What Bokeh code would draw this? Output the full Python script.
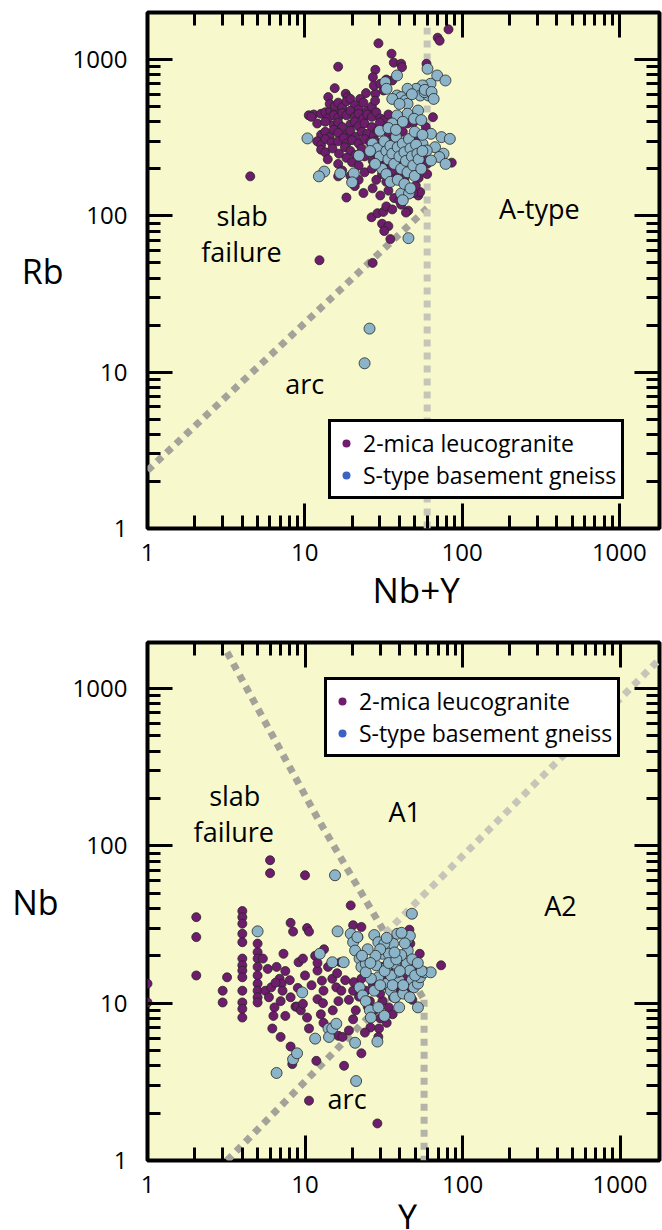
from bokeh.plotting import figure
from bokeh.layouts import column
from bokeh.models import (LogAxis, FixedTicker, NumeralTickFormatter, Range1d,
                          Legend, LegendItem, Label, LogScale, Title)
from bokeh.core.properties import value
from bokeh.embed import file_html
from bokeh.resources import INLINE

# ---------------------------------------------------------------- data
MAJOR_TICKS = [1, 10, 100, 1000]
MINOR_TICKS = [m * 10 ** k for k in range(0, 4) for m in range(2, 10)]

# Rb vs Nb+Y : 2-mica leucogranite  (Nb+Y, Rb)
LEUCO_RB = [
    (4.5, 179), (12.4, 52), (27, 50), (29.4, 1270), (82, 1560), (70, 1380), (72, 1320),
    (16.3, 900), (35.6, 1090), (36.8, 955), (41, 940), (41.5, 894), (28.1, 860), (27.1, 771),
    (59.4, 940), (15.5, 656), (18.2, 604), (18.7, 575), (14.1, 575), (28.1, 604), (31.7, 634),
    (36, 735), (65.3, 428), (58.8, 370), (86, 219), (35, 71), (31, 89), (34, 86), (32, 80),
    (26.6, 98), (29, 104), (31.6, 106), (45.5, 108), (52.7, 135), (54.2, 142), (50.8, 156),
    (16.3, 179), (18.4, 131), (24.5, 610), (27.5, 680), (30.2, 700), (33, 745), (22.5, 560),
    (10.6, 440), (11.4, 445), (12.7, 450), (11, 430), (13.5, 460), (14.5, 470), (15.5, 455),
    (16.5, 480), (17.5, 470), (14, 420),
    (14.4, 520), (15.5, 505), (16.3, 530), (17.3, 495), (18.4, 540), (19.5, 560), (20.8, 510),
    (22, 480), (23.6, 530), (25, 470), (26.7, 500), (28, 545),
    (15.3, 440), (16.3, 425), (17.3, 455), (18.4, 440), (19.5, 470), (20.8, 430), (22, 450),
    (23.6, 420), (25, 445), (26.7, 430), (28.5, 460), (30.2, 420), (32, 410), (34, 445),
    (12, 390), (13.5, 400), (15.3, 380), (16.3, 395), (17.3, 370), (19.5, 385), (20.8, 400),
    (22, 375), (24, 390), (26.7, 370), (30, 395), (33, 365), (36, 380), (40, 400), (45, 390),
    (49, 395),
    (12.7, 330), (13.5, 345), (14.4, 320), (15.3, 355), (16.3, 340), (18.4, 330), (19.5, 350),
    (21, 320), (23, 345), (25, 335), (27.5, 325), (29, 350), (34, 335), (38, 320), (42, 345),
    (12, 300), (12.7, 285), (13.5, 310), (14.8, 295), (16.3, 300), (17.7, 315), (18.4, 290),
    (20, 305), (22, 290), (24, 310), (26, 295), (28, 300), (31, 290), (35, 305), (38, 285),
    (44, 300), (50, 305),
    (12.7, 265), (13.5, 255), (15, 270), (16.5, 250), (18, 275), (19.5, 260), (21, 245),
    (23, 270), (25.5, 255), (28, 240), (30, 260), (33, 250), (36, 270), (40, 255), (46, 245),
    (52, 260), (57, 250),
    (14, 230), (16.3, 215), (18.4, 235), (20, 220), (22, 210), (24, 240), (27, 225), (29, 210),
    (31, 230), (33, 215), (35.5, 205), (38, 220), (41, 215), (48, 215), (55, 225), (60, 215),
    (17.3, 195), (19.5, 180), (22, 170), (24, 190), (26.7, 200), (28.5, 170), (31, 185),
    (33, 165), (35, 175), (37, 195), (40, 180), (43, 170), (48, 190), (53, 175), (60, 185),
    (20.8, 155), (23.6, 140), (27, 150), (30.2, 135), (34, 145), (37, 130), (40, 125),
    (45, 150), (49, 140),
    (33, 115), (36, 110), (41, 118), (44, 105),
]

# Rb vs Nb+Y : S-type basement gneiss  (Nb+Y, Rb)
GNEISS_RB = [
    (38.6, 791), (32.5, 717), (33.1, 650), (60.3, 873), (69.5, 791), (78.4, 735), (63, 700),
    (56, 683), (51, 650), (45, 650), (38.6, 589), (41, 575), (43.7, 547), (45, 521),
    (54.2, 589), (61.1, 589), (57.7, 619), (58, 640), (64, 620), (66, 560), (36, 560),
    (40, 520), (48, 600),
    (45, 450), (52.5, 472), (38.6, 439), (49.5, 418), (42, 400), (36, 390), (55, 410),
    (63.4, 335), (74, 319), (83.6, 311), (67.3, 275), (76.2, 250), (71.6, 238), (78.6, 215),
    (63.4, 226), (56, 289), (59.6, 262),
    (10.4, 313), (13.3, 192), (12.3, 179), (16.8, 187), (20.5, 187), (22.1, 243), (20, 164),
    (41, 139), (46, 139), (42, 126), (45.6, 72), (25.8, 19), (24, 11.4),
    (27, 290), (29, 270), (30, 240), (32, 300), (33, 260), (34, 230), (35, 280), (36, 250),
    (37, 215), (38, 320), (39, 275), (40, 240), (41, 200), (42, 290), (43, 255), (44, 225),
    (45, 190), (46, 310), (47, 270), (48, 240), (49, 210), (50, 180), (51, 285), (52, 250),
    (53, 230), (55, 200), (56, 260), (31, 200), (33, 185), (35, 165), (39, 170), (43, 160),
    (47, 150), (30, 350), (34, 365), (28, 215), (26, 260), (38, 355), (50, 345), (56, 330),
]

# Nb vs Y : 2-mica leucogranite  (Y, Nb)
LEUCO_NB = [
    (1.0, 13.3), (1.0, 10.1),
    (2.04, 35.2), (2.04, 26.3), (2.04, 15),
    (3.0, 12), (3.0, 10.1), (3.2, 14.6),
    (4, 38.5), (4, 35.2), (4, 32), (4, 27.6), (4, 24.4), (4, 19.2), (4, 17.4), (4, 16.1),
    (4, 14.6), (4, 12), (4, 10.1), (4, 9.2), (4, 8.1),
    (5, 23.9), (5, 21.1), (5, 19.2), (5, 17), (5, 15), (5, 13.3), (5, 12), (5, 10.9), (5, 10.1),
    (5.4, 19.2), (5.8, 16.5), (5.6, 12), (5.9, 10.9),
    (6.1, 12.6), (6.4, 9.4), (6.3, 8.3), (6.2, 6.9),
    (6.6, 17), (6.9, 14.3), (7.1, 13.3), (7.2, 12), (7.0, 6.1), (7.0, 10.3),
    (7.3, 20.6), (7.5, 8.3),
    (8.1, 32.4), (8.4, 28.5), (8.1, 10.9), (8.7, 9.5), (8.1, 5.3), (8.3, 4.1),
    (9.1, 18.2), (9.7, 19.2), (10.3, 30), (10.6, 28.5), (8.9, 9.5), (9.4, 9), (9.7, 9.9),
    (10.3, 8.1), (10.6, 6.9),
    (11.6, 20), (12, 16.1), (12.8, 13.9), (13.1, 12), (12, 10.6), (12.6, 8.5), (13.1, 7.5),
    (13.2, 22), (14.9, 14.3), (15.8, 12.6), (16.3, 10.3), (16.3, 6.2), (17.3, 6.1), (16.8, 18.2),
    (17.7, 4.0), (19, 6.7), (20.2, 7.9), (20.2, 12), (20.4, 13.6), (20.2, 31.3), (22.8, 30.5),
    (21.8, 26.3), (22.8, 4.8), (19.5, 41.8), (29.2, 6.1), (29.5, 6.9), (28.8, 1.72),
    (10.6, 2.4), (11.8, 4.3),
    (22.8, 14.3), (24.3, 12), (25.8, 10.3), (27.5, 9), (31, 10.3), (34, 9.4), (36.2, 10.9),
    (38.3, 12), (41, 13.3), (44.9, 14.6), (46, 29.3), (46.6, 23.9), (39.6, 14.6), (36.2, 16.1),
    (33.3, 17.8), (31, 17),
    (73.1, 17.4), (52, 16.1), (53.5, 20.6),
    (6, 81), (6, 67), (10, 65),
    (22, 11), (25, 9.5), (27, 13), (30, 11.5), (32, 14), (34, 12.5), (38, 11), (41, 12.5),
    (45, 11.5), (48, 10.5), (36, 8.5), (30, 8), (26, 7), (33, 7.5), (24, 6.5), (21, 9),
    (19, 10.5), (18, 14), (16, 15.5), (14, 17), (12, 18), (17, 12), (13, 10), (15, 9),
    (11, 13), (10, 15), (9, 12.5), (8, 14), (7.5, 16), (6.5, 13.5),
]

# Nb vs Y : S-type basement gneiss  (Y, Nb)
GNEISS_NB = [
    (5.0, 28.6), (6.6, 3.6), (8.4, 4.4), (8.9, 4.8), (9.6, 11.7), (11.6, 5.95), (14.1, 6.9),
    (14.2, 6.1), (14.9, 6.9), (15.8, 7.4),
    (12.4, 20.6), (14.9, 18.2), (17.6, 18.2), (16.1, 28.6),
    (19.5, 27.6), (20.2, 24.4), (21.5, 26.3), (20.8, 21.6), (22.2, 19.2), (22.8, 17), (24.3, 17.8),
    (20.8, 5.6), (21.1, 3.2),
    (22.2, 12.6), (23.2, 11.2), (24.3, 10.3), (25.8, 9.0), (26.2, 8.1), (27.5, 27.1),
    (29.2, 24.4), (28.3, 17.4), (29.2, 14.6), (27.5, 12), (29.2, 9.4), (31.9, 8.3), (31, 20.6),
    (33, 17), (33, 13.3), (35.1, 12), (37.3, 10.9), (39.6, 9.4), (39.6, 14), (38.5, 15.7),
    (37.3, 17.8), (36.2, 23.9), (38.5, 27.6), (44.9, 25.6), (46.3, 26.8), (44.9, 21.6),
    (44.3, 17.8), (46.3, 16.1), (47.7, 14), (49.1, 12.6), (52.1, 13.3), (52.1, 9.4),
    (53.7, 14.6), (57.2, 15.7), (62.8, 15.7), (28.8, 5.7), (31.9, 23.9), (34.1, 20.6),
    (40.8, 20.2), (42, 11.5), (46.3, 10.9), (35.1, 15), (26.2, 14.3), (24.3, 15.7), (47.7, 37),
    (15.5, 65),
    (30, 13), (32, 16), (34, 18), (36, 13), (38, 19), (40, 16), (42, 13), (43, 24), (41, 28),
    (37, 21), (33, 26), (30, 22), (28, 20), (26, 18), (25, 22), (23, 20), (48, 19), (50, 15),
    (55, 16), (52, 18),
]

# field boundaries
RB_ARC_LINE = [(1, 2.35), (60, 112)]
RB_ATYPE_LINE = [(60, 1), (60, 1600)]
NB_SLAB_LINE = [(3.2, 1700), (12, 150), (57, 10.5)]
NB_A_LINE = [(57, 10.5), (57, 1)]
NB_A1A2_LINE = [(32.3, 27.8), (1800, 1550)]
NB_ARC_LINE = [(3.2, 1.0), (46, 15)]

LEGEND_LABELS = ["2-mica leucogranite", "S-type basement gneiss"]

# ---------------------------------------------------------------- style
FONT = "Open Sans"
BG = "#f8f8cd"
LEUCO_FILL = "#6e1c6c"
GNEISS_FILL = "#8cb4c8"
GNEISS_KEY = "#3c62c4"
EDGE = "#262626"
DARK_DASH = "#a3a399"
LIGHT_DASH = "#c6c6b8"


def xs(pts):
    return [p[0] for p in pts]


def ys(pts):
    return [p[1] for p in pts]


def style_axis(ax, labels=True):
    ax.ticker = FixedTicker(ticks=MAJOR_TICKS, minor_ticks=MINOR_TICKS)
    ax.formatter = NumeralTickFormatter(format="0")
    ax.axis_line_color = None
    ax.major_tick_in = 25
    ax.major_tick_out = 0
    ax.minor_tick_in = 13
    ax.minor_tick_out = 0
    ax.major_tick_line_width = 3
    ax.minor_tick_line_width = 3
    ax.major_tick_line_color = "black"
    ax.minor_tick_line_color = "black"
    ax.major_label_text_font = FONT
    if labels:
        ax.major_label_text_color = "black"
        ax.major_label_text_font_size = "24px"
    else:
        # mirrored tick marks only
        ax.major_label_text_color = None
        ax.major_label_text_font_size = "1px"
        ax.major_label_standoff = 0


def panel(height, left, top, bottom, xmax, ymax, ylabel, ylabel_standoff):
    p = figure(width=662, height=height, x_axis_type="log", y_axis_type="log",
               x_range=Range1d(1, xmax), y_range=Range1d(1, ymax),
               output_backend="svg", toolbar_location=None,
               min_border_left=left, min_border_right=3,
               min_border_top=top, min_border_bottom=bottom,
               background_fill_color=BG, border_fill_color="white",
               outline_line_color="black", outline_line_width=4)
    p.grid.visible = False
    xa, ya = p.xaxis[0], p.yaxis[0]
    style_axis(xa)
    style_axis(ya)
    xa.major_label_standoff = 15
    ya.major_label_standoff = 20
    ya.axis_label = ylabel
    ya.axis_label_orientation = "horizontal"
    ya.axis_label_text_font = FONT
    ya.axis_label_text_font_size = "34px"
    ya.axis_label_text_font_style = "normal"
    ya.axis_label_text_color = "black"
    ya.axis_label_standoff = ylabel_standoff
    top_ax = LogAxis()
    right_ax = LogAxis()
    style_axis(top_ax, labels=False)
    style_axis(right_ax, labels=False)
    p.add_layout(top_ax, "above")
    p.add_layout(right_ax, "right")
    return p


def x_title_below(p, text, offset):
    """x-axis title set under the tick labels, shifted right by `offset` px."""
    p.add_layout(Title(text=text, align="left", offset=offset, standoff=0,
                       text_font=FONT, text_font_size="35px", text_font_style="normal",
                       text_color="black"), "below")


def title_strip(height, left, x_range, x, baseline, text):
    """A thin strip under a panel holding its x-axis title on the panel's own scale."""
    s = figure(width=662, height=height, x_range=x_range, y_range=Range1d(0, height),
               output_backend="svg", toolbar_location=None,
               x_axis_location=None, y_axis_location=None,
               min_border_left=left, min_border_right=3,
               min_border_top=0, min_border_bottom=0,
               background_fill_color="white", border_fill_color="white",
               outline_line_color=None)
    s.x_scale = LogScale()
    s.grid.visible = False
    s.text(x=[x], y=[baseline], text=[text], text_font=value(FONT),
           text_font_size=value("35px"), text_align="center",
           text_baseline="alphabetic", text_color="black")
    return s


def dashed(p, pts, color):
    p.line(xs(pts), ys(pts), line_color=color, line_width=7, line_dash="7 6")


def points(p, pts, fill, size):
    return p.scatter(xs(pts), ys(pts), size=size, fill_color=fill, line_color=EDGE,
                     line_width=0.8)


def region_text(p, x, y, text):
    p.add_layout(Label(x=x, y=y, text=text, text_font=FONT, text_font_size="27px",
                       text_align="center", text_baseline="alphabetic",
                       text_color="black"))


def add_legend(p, leuco, gneiss, loc):
    # legend keys: zero-size copies of each series, so only the key dot shows
    key_p = p.scatter(xs(leuco), ys(leuco), size=0, fill_color=LEUCO_FILL, line_color=None)
    key_b = p.scatter(xs(gneiss), ys(gneiss), size=0, fill_color=GNEISS_KEY, line_color=None)
    leg = Legend(items=[LegendItem(label=LEGEND_LABELS[0], renderers=[key_p]),
                        LegendItem(label=LEGEND_LABELS[1], renderers=[key_b])],
                 location=loc, orientation="vertical",
                 border_line_color="black", border_line_width=3, border_line_alpha=1,
                 background_fill_color="white", background_fill_alpha=1,
                 label_text_font=FONT, label_text_font_size="23px",
                 label_text_color="black", glyph_width=20, glyph_height=20,
                 label_standoff=7, padding=5, spacing=0, margin=0)
    p.add_layout(leg)


# ---------------------------------------------------------------- Rb vs Nb+Y
p1 = panel(640, 147, 12, 112, 1800, 2000, "Rb", 6)
dashed(p1, RB_ARC_LINE, DARK_DASH)
dashed(p1, RB_ATYPE_LINE, LIGHT_DASH)
points(p1, LEUCO_RB, LEUCO_FILL, 9)
points(p1, GNEISS_RB, GNEISS_FILL, 11)
region_text(p1, 4.0, 100, "slab")
region_text(p1, 3.96, 59, "failure")
region_text(p1, 310, 112, "A-type")
region_text(p1, 10, 8.5, "arc")
add_legend(p1, LEUCO_RB, GNEISS_RB, (181, 29))
x_title_below(p1, "Nb+Y", 225)

# ---------------------------------------------------------------- Nb vs Y
p2 = panel(564, 143, 2, 44, 1780, 1960, "Nb", 11)
dashed(p2, NB_SLAB_LINE, DARK_DASH)
dashed(p2, NB_A_LINE, "#b4b4a8")
dashed(p2, NB_A1A2_LINE, LIGHT_DASH)
dashed(p2, NB_ARC_LINE, DARK_DASH)
points(p2, LEUCO_NB, LEUCO_FILL, 9)
points(p2, GNEISS_NB, GNEISS_FILL, 11)
region_text(p2, 3.58, 208, "slab")
region_text(p2, 3.53, 124, "failure")
region_text(p2, 42.9, 165, "A1")
region_text(p2, 418, 41.5, "A2")
region_text(p2, 18.5, 2.48, "arc")
add_legend(p2, LEUCO_NB, GNEISS_NB, (177, 403))
t2 = title_strip(26, 143, p2.x_range, 44.8, 15, "Y")

layout = column(p1, p2, t2, spacing=0)
open("out.html", "w").write(file_html(layout, INLINE))
